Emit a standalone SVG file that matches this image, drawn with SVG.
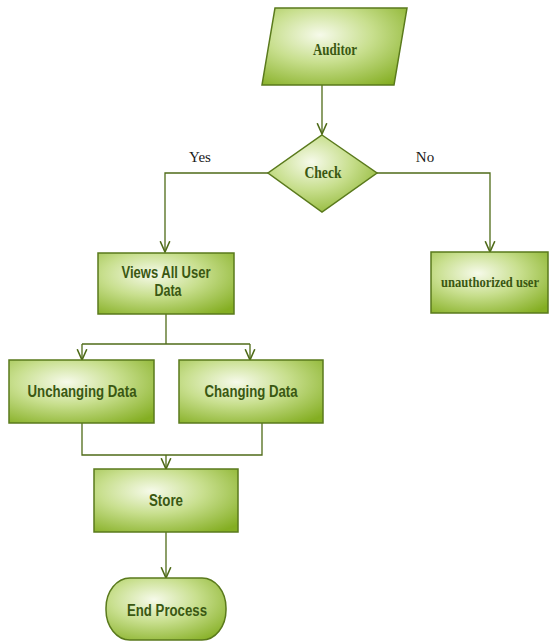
<svg xmlns="http://www.w3.org/2000/svg" width="549" height="641" viewBox="0 0 549 641">
<style>
.node{fill:url(#g);stroke:#5a7a1c;stroke-width:1.5}
.t{font-family:"Liberation Sans",Arial,sans-serif;font-weight:bold;font-size:16px;fill:#3a5812;text-anchor:middle}
.s{font-family:"Liberation Serif","Times New Roman",serif;font-weight:bold;font-size:17px;fill:#3a5812;text-anchor:middle}
.l{font-family:"Liberation Serif","Times New Roman",serif;font-size:15px;fill:#1a1a1a;text-anchor:middle}
.c{fill:none;stroke:#4f6b18;stroke-width:1.3}
</style>
<defs>
<radialGradient id="g" cx="0.4" cy="0.35" r="0.8">
<stop offset="0" stop-color="#f6faea"/>
<stop offset="0.45" stop-color="#c8df8e"/>
<stop offset="1" stop-color="#84ae22"/>
</radialGradient>
<marker id="a" markerUnits="userSpaceOnUse" markerWidth="12" markerHeight="12" refX="9" refY="5" orient="auto" viewBox="0 0 10 10">
<path d="M0,1 L9,5 L0,9" fill="none" stroke="#4f6b18" stroke-width="1.3"/>
</marker>
</defs>
<g id="connectors">
<path class="c" d="M322,85 V134" marker-end="url(#a)"/>
<path class="c" d="M268,173 H165 V252" marker-end="url(#a)"/>
<path class="c" d="M377,173 H490 V252" marker-end="url(#a)"/>
<path class="c" d="M166,314 V344"/>
<path class="c" d="M82,344 H250"/>
<path class="c" d="M82,344 V360" marker-end="url(#a)"/>
<path class="c" d="M250,344 V360" marker-end="url(#a)"/>
<path class="c" d="M82,423 V455 H262 V423"/>
<path class="c" d="M166,455 V469" marker-end="url(#a)"/>
<path class="c" d="M166,532 V578" marker-end="url(#a)"/>
<text class="l" x="200" y="162">Yes</text>
<text class="l" x="425" y="162">No</text>
</g>
<g id="auditor">
<polygon class="node" points="275,8 407,8 394,85 262,85"/>
<text class="s" x="335" y="55" textLength="44" lengthAdjust="spacingAndGlyphs">Auditor</text>
</g>
<g id="check">
<polygon class="node" points="322,135 377,173 322,212 268,173"/>
<text class="s" x="323" y="178" textLength="37" lengthAdjust="spacingAndGlyphs">Check</text>
</g>
<g id="views">
<rect class="node" x="98" y="253" width="136" height="61"/>
<text class="t" x="166" y="278" textLength="89" lengthAdjust="spacingAndGlyphs">Views All User</text>
<text class="t" x="168" y="296" textLength="27" lengthAdjust="spacingAndGlyphs">Data</text>
</g>
<g id="unauthorized">
<rect class="node" x="431" y="252" width="117" height="61"/>
<text class="s" x="490" y="287" style="font-size:14px" textLength="98" lengthAdjust="spacingAndGlyphs">unauthorized user</text>
</g>
<g id="unchanging">
<rect class="node" x="9" y="360" width="145" height="63"/>
<text class="t" x="82" y="397" textLength="109" lengthAdjust="spacingAndGlyphs">Unchanging Data</text>
</g>
<g id="changing">
<rect class="node" x="179" y="360" width="144" height="63"/>
<text class="t" x="251" y="397" textLength="93" lengthAdjust="spacingAndGlyphs">Changing Data</text>
</g>
<g id="store">
<rect class="node" x="94" y="469" width="144" height="63"/>
<text class="t" x="166" y="506" textLength="34" lengthAdjust="spacingAndGlyphs">Store</text>
</g>
<g id="end">
<rect class="node" x="106" y="578" width="120" height="62" rx="24" ry="30"/>
<text class="t" x="167" y="616" textLength="80" lengthAdjust="spacingAndGlyphs">End Process</text>
</g>
</svg>
